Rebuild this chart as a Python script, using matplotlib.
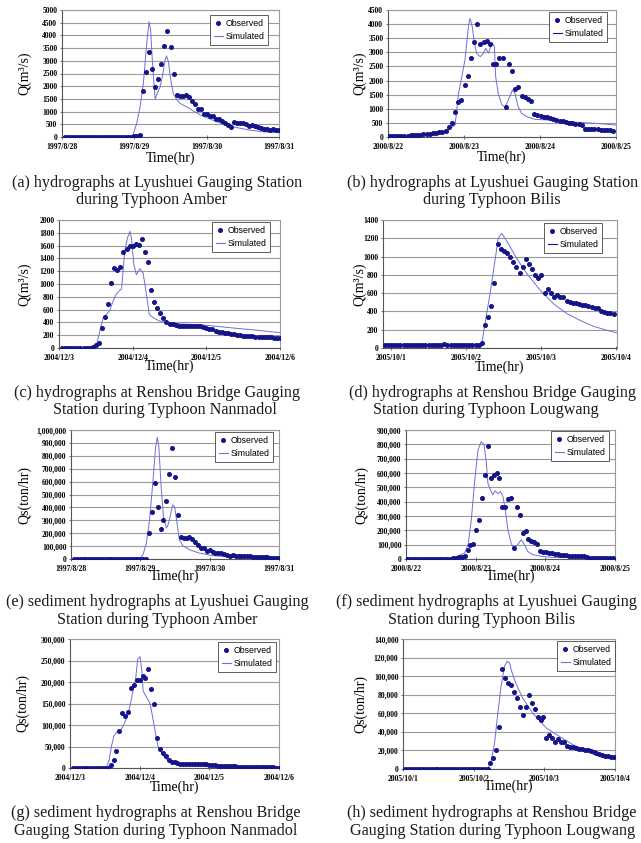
import numpy as np
import matplotlib.pyplot as plt
from matplotlib.ticker import FuncFormatter
from matplotlib.lines import Line2D

W, H = 641, 843
OBS_C = '#14148a'
SIM_C = '#6f6fd8'
SERIF = ['Liberation Serif', 'DejaVu Serif']
SANS = ['Liberation Sans', 'DejaVu Sans']

# ---- (a) Lyushuei, Amber, flow (m3/s) ----
a_dates = ['1997/8/28', '1997/8/29', '1997/8/30', '1997/8/31']
a_obs_t0 = 1
a_obs = [10, 10, 10, 10, 10, 10, 10, 10, 10, 10, 10, 10, 10, 10, 10, 10, 10, 10, 10, 10,
         10, 10, 10, 20, 40, 70, 1824, 2546, 3360, 2690, 1982, 2297, 2887, 3583, 4173, 3530,
         2467, 1654, 1600, 1600, 1640, 1560, 1430, 1286, 1090, 1090, 905, 905, 827, 827, 709,
         709, 643, 564, 472, 407, 604, 538, 551, 538, 499, 446, 459, 433, 380, 367, 302, 302,
         275, 302, 275, 290]
a_sim_t = [0, 23.2, 23.7, 24.8, 25.9, 27.0, 28.1, 28.9, 29.4, 30.1, 30.9, 31.6, 32.5, 33.3,
           34.2, 34.7, 35.3, 36.1, 36.9, 37.8, 39.1, 41.3, 45.8, 51.3, 56.8, 62.3, 67.8, 72]
a_sim = [0, 0, 144, 540, 1190, 2110, 3690, 4540, 4210, 2770, 1483, 1720, 1955, 2375,
         3030, 3190, 2966, 2244, 1720, 1520, 1325, 1190, 870, 600, 400, 270, 190, 170]

# ---- (b) Lyushuei, Bilis, flow ----
b_dates = ['2000/8/22', '2000/8/23', '2000/8/24', '2000/8/25']
b_obs_t0 = 0.2
b_obs = [20, 30, 35, 38, 40, 45, 50, 55, 60, 70, 80, 90, 100, 120, 130, 150, 160, 170, 224,
         366, 508, 896, 1251, 1311, 1843, 2172, 2810, 3356, 3993, 3296, 3356, 3413, 3306,
         2576, 2576, 2789, 2810, 1074, 2576, 2339, 1700, 1760, 1453, 1400, 1334, 1287, 804,
         780, 756, 720, 697, 673, 638, 602, 579, 555, 520, 508, 484, 460, 449, 413, 295, 295,
         283, 283, 272, 260, 260, 248, 236, 224]
b_sim_t = [0, 5, 10, 15.3, 18.4, 20.2, 21.2, 22.2, 23.3, 24.3, 25.4, 25.9, 26.6, 27.3, 28,
           29.1, 30.1, 30.9, 31.7, 32.9, 33.6, 34, 34.8, 35.9, 36.9, 38, 39.3, 40.1, 41.1,
           42.2, 43.8, 46.4, 50.6, 55, 60, 66, 72]
b_sim = [12, 40, 70, 150, 224, 350, 425, 1488, 2137, 2729, 3909, 4206, 3909, 3320, 2965,
         2846, 2965, 3143, 2965, 3343, 3201, 2137, 1548, 1158, 1052, 1311, 1666, 1548, 1074,
         840, 720, 627, 602, 560, 520, 480, 425]

# ---- (c) Renshou, Nanmadol, flow ----
c_dates = ['2004/12/3', '2004/12/4', '2004/12/5', '2004/12/6']
c_obs_t0 = 1
c_obs = [0, 0, 0, 0, 0, 0, 0, 0, 0, 5, 15, 40, 80, 316, 483, 680, 1017, 1251, 1215, 1266,
         1505, 1547, 1589, 1595, 1625, 1610, 1698, 1505, 1344, 913, 716, 623, 550, 472, 405,
         380, 370, 360, 350, 350, 348, 345, 345, 350, 350, 345, 330, 312, 300, 290, 260, 250,
         245, 240, 235, 225, 215, 205, 200, 192, 185, 182, 180, 178, 175, 172, 170, 168, 165,
         162, 160, 155]
c_sim_t = [0, 11, 12.2, 13.0, 13.6, 14.4, 15.5, 16.5, 17.6, 18.7, 20.4, 21.4, 22.3, 23.1,
           23.6, 24.4, 25.2, 26.3, 27.4, 28.5, 29.4, 30.7, 32.8, 35, 40, 45.9, 50, 56.8, 64, 72]
c_sim = [0, 0, 50, 200, 330, 472, 524, 586, 732, 846, 928, 1511, 1718, 1822, 1718, 1302,
         1146, 1240, 1173, 835, 524, 472, 420, 394, 375, 364, 345, 312, 280, 239]

# ---- (d) Renshou, Lougwang, flow ----
d_dates = ['2005/10/1', '2005/10/2', '2005/10/3', '2005/10/4']
d_obs_t0 = -1.9
d_obs = [35, 33, 33, 33, 33, 35, 33, 33, 33, 33, 33, 33, 33, 33, 33, 33, 33, 33, 33, 40,
         33, 33, 33, 33, 33, 33, 33, 33, 33, 35, 33, 55, 256, 340, 460, 713, 1137, 1082, 1056,
         1042, 990, 943, 881, 819, 881, 969, 914, 866, 797, 771, 797, 603, 640, 607, 559, 581,
         563, 563, 519, 504, 497, 490, 486, 475, 468, 457, 450, 439, 435, 406, 395, 387, 380,
         369]
d_sim_t = [-2.4, 29, 30.1, 31.7, 33.3, 34.3, 35.4, 36.5, 38.1, 40.2, 43.4, 47.7, 51.9, 56.2,
           60.4, 64.6, 69, 72.2]
d_sim = [33, 35, 267, 596, 961, 1199, 1254, 1199, 1107, 980, 815, 632, 486, 376, 303, 238,
         194, 164]

# ---- (e) Lyushuei, Amber, sediment (ton/hr) ----
e_obs_t0 = 1
e_obs = [0] * 26 + [
    201e3, 361e3, 588e3, 402e3, 235e3, 302e3, 448e3, 660e3, 858e3, 639e3, 343e3, 170e3,
    162e3, 162e3, 170e3, 155e3, 129e3, 108e3, 88e3, 88e3, 59e3, 67e3, 54e3, 49e3, 46e3,
    44e3, 39e3, 31e3, 21e3, 31e3, 26e3, 26e3, 26e3, 23e3, 21e3, 21e3, 18e3, 18e3, 15e3,
    15e3, 13e3, 13e3, 11e3, 10e3, 9e3, 8e3]
e_sim_t = [0, 23.8, 24.9, 26.1, 27.2, 28.4, 29.3, 29.9, 30.4, 31.2, 32, 33, 33.5, 34.3, 35.2,
           35.9, 36.7, 37.5, 38.7, 41, 44.4, 49, 55.9, 65, 72]
e_sim = [0, 0, 33e3, 124e3, 304e3, 613e3, 871e3, 943e3, 871e3, 562e3, 330e3, 240e3, 258e3,
         330e3, 420e3, 402e3, 278e3, 150e3, 103e3, 72e3, 46e3, 26e3, 15e3, 10e3, 8e3]

# ---- (f) Lyushuei, Bilis, sediment ----
f_obs_t0 = 0.2
f_obs = [0, 0, 0, 0, 0, 0, 0, 0, 0, 0, 0, 1e3, 1e3, 2e3, 2e3, 3e3, 4e3, 7e3, 12e3, 14e3,
         23e3, 60e3, 100e3, 107e3, 204e3, 274e3, 424e3, 587e3, 789e3, 564e3, 587e3, 598e3,
         564e3, 366e3, 366e3, 418e3, 429e3, 77e3, 364e3, 308e3, 181e3, 193e3, 139e3, 128e3,
         118e3, 107e3, 53e3, 46e3, 46e3, 42e3, 40e3, 37e3, 34e3, 30e3, 28e3, 26e3, 23e3,
         22e3, 21e3, 20e3, 20e3, 19e3, 12e3, 10e3, 9e3, 9e3, 8e3, 7e3, 6e3, 6e3, 5e3, 5e3]
f_sim_t = [0, 15, 16.8, 20.2, 21.4, 22.5, 23.7, 24.8, 25.9, 26.9, 27.7, 28.2, 29.1, 29.9,
           30.7, 31.7, 32.5, 33.4, 34.2, 35.1, 36.2, 37, 38.5, 39.7, 40.8, 41.9, 43.7, 46.5,
           50, 60, 72]
f_sim = [0, 0, 12e3, 42e3, 100e3, 274e3, 552e3, 761e3, 819e3, 796e3, 668e3, 529e3, 482e3,
         448e3, 476e3, 455e3, 471e3, 436e3, 343e3, 204e3, 111e3, 77e3, 100e3, 135e3, 100e3,
         53e3, 30e3, 19e3, 12e3, 8e3, 5e3]

# ---- (g) Renshou, Nanmadol, sediment ----
g_obs_t0 = 1
g_obs = [0] * 13 + [
    7.8e3, 18e3, 40e3, 85e3, 129e3, 121e3, 131e3, 185e3, 192e3, 205e3, 205e3, 213e3, 209e3,
    231e3, 183e3, 148e3, 70e3, 44e3, 35e3, 27e3, 19.5e3, 15e3, 13e3, 11e3, 10e3, 10e3, 10e3,
    10e3, 10e3, 10e3, 10e3, 10e3, 9.5e3, 8.6e3, 7.8e3, 7e3, 6.2e3, 5.5e3, 5.5e3, 4.7e3,
    4.7e3, 3.9e3, 3.9e3, 3.9e3, 3.1e3, 3.1e3, 3.1e3, 2.3e3, 2.3e3, 2.3e3, 2.3e3, 2e3, 1.6e3,
    1.6e3, 1.6e3, 1.6e3, 1.6e3, 0.8e3, 0.8e3]
g_sim_t = [0, 12, 12.6, 13.5, 14.3, 15.1, 16.1, 17.2, 18.3, 19.3, 20.1, 20.9, 21.8, 22.6,
           23.3, 24.1, 24.7, 25.2, 26.4, 27.5, 28.4, 29.4, 30.3, 31.2, 32.7, 34.4, 38, 45,
           55, 72]
g_sim = [0, 0, 2e3, 19.5e3, 51e3, 74e3, 84e3, 87e3, 97e3, 113e3, 127e3, 152e3, 183e3,
         206e3, 253e3, 259e3, 230e3, 179e3, 164e3, 152e3, 121e3, 82e3, 51e3, 39e3, 23e3,
         15.6e3, 10e3, 7e3, 3.9e3, 1.6e3]

# ---- (h) Renshou, Lougwang, sediment ----
h_obs_t0 = 0.7
h_obs = [0] * 29 + [
    6.5e3, 11.5e3, 20e3, 45e3, 108e3, 98e3, 93e3, 90e3, 83e3, 76e3, 67e3, 58e3, 67e3, 80e3,
    71e3, 65e3, 56e3, 53e3, 56e3, 33e3, 37e3, 33e3, 29e3, 32e3, 29e3, 29e3, 25e3, 24e3,
    24e3, 23e3, 22e3, 21.5e3, 20.5e3, 20e3, 19e3, 18.3e3, 17.2e3, 16.2e3, 15e3, 14.4e3,
    13.6e3, 12.9e3, 12.5e3]
h_sim_t = [0, 28.8, 29.9, 31.1, 32.2, 33.3, 34.5, 35.4, 36.2, 37.1, 38.5, 40.7, 44.1, 48.7,
           53.2, 57.8, 62.3, 66.9, 72]
h_sim = [0, 0, 8e3, 28e3, 60e3, 89e3, 111e3, 116e3, 114e3, 103e3, 91e3, 76e3, 60e3, 44e3,
         35e3, 26e3, 20e3, 15.4e3, 11.8e3]

q_label = 'Q(m³/s)'
qs_label = 'Qs(ton/hr)'

captions = [
    ('(a) hydrographs at Lyushuei Gauging Station', 'during Typhoon Amber'),
    ('(b) hydrographs at Lyushuei Gauging Station', 'during Typhoon Bilis'),
    ('(c) hydrographs at Renshou Bridge Gauging', 'Station during Typhoon Nanmadol'),
    ('(d) hydrographs at Renshou Bridge Gauging', 'Station during Typhoon Lougwang'),
    ('(e) sediment hydrographs at Lyushuei Gauging', 'Station during Typhoon Amber'),
    ('(f) sediment hydrographs at Lyushuei Gauging', 'Station during Typhoon Bilis'),
    ('(g) sediment hydrographs at Renshou Bridge', 'Gauging Station during Typhoon Nanmadol'),
    ('(h) sediment hydrographs at Renshou Bridge', 'Gauging Station during Typhoon Lougwang'),
]

panels = [
    dict(obs=a_obs, t0=a_obs_t0, st=a_sim_t, sv=a_sim, dates=a_dates, ymax=5000, ystep=500, yl=q_label),
    dict(obs=b_obs, t0=b_obs_t0, st=b_sim_t, sv=b_sim, dates=b_dates, ymax=4500, ystep=500, yl=q_label),
    dict(obs=c_obs, t0=c_obs_t0, st=c_sim_t, sv=c_sim, dates=c_dates, ymax=2000, ystep=200, yl=q_label),
    dict(obs=d_obs, t0=d_obs_t0, st=d_sim_t, sv=d_sim, dates=d_dates, ymax=1400, ystep=200, yl=q_label),
    dict(obs=e_obs, t0=e_obs_t0, st=e_sim_t, sv=e_sim, dates=a_dates, ymax=1e6, ystep=1e5, yl=qs_label),
    dict(obs=f_obs, t0=f_obs_t0, st=f_sim_t, sv=f_sim, dates=b_dates, ymax=9e5, ystep=1e5, yl=qs_label),
    dict(obs=g_obs, t0=g_obs_t0, st=g_sim_t, sv=g_sim, dates=c_dates, ymax=3e5, ystep=5e4, yl=qs_label),
    dict(obs=h_obs, t0=h_obs_t0, st=h_sim_t, sv=h_sim, dates=d_dates, ymax=1.4e5, ystep=2e4, yl=qs_label),
]

# layout in pixels: axes box (left, top, right, bottom), xlim, ylabel distance,
# xlabel distance, legend top-right corner, caption line centres and y
layout = [
    dict(box=(62, 10, 279, 137), xlim=(0, 72), yld=37, xld=21, leg=(268, 15),
         cap=((157, 183), (152, 200))),
    dict(box=(388, 10, 616, 137), xlim=(0, 72), yld=28, xld=20, leg=(607, 12),
         cap=((493, 183), (492, 200))),
    dict(box=(59, 220, 280, 348), xlim=(0, 72), yld=34, xld=18, leg=(270, 222),
         cap=((157, 393), (165, 410))),
    dict(box=(383, 220, 617, 348), xlim=(-2.45, 72.2), yld=23, xld=19, leg=(602, 223),
         cap=((492, 393), (486, 410))),
    dict(box=(71, 430, 279, 559), xlim=(0, 72), yld=46, xld=17, leg=(273, 432),
         cap=((157, 602), (157, 620))),
    dict(box=(406, 430, 615, 559), xlim=(0, 72), yld=44, xld=17, leg=(609, 431),
         cap=((486, 602), (482, 620))),
    dict(box=(70, 639, 279, 768), xlim=(0, 72), yld=47, xld=19, leg=(276, 642),
         cap=((156, 813), (156, 831))),
    dict(box=(403, 639, 615, 769), xlim=(0, 72), yld=42, xld=17, leg=(615, 641),
         cap=((492, 813), (493, 831))),
]

fig = plt.figure(figsize=(W / 100, H / 100), dpi=100)

for k, (p, lay) in enumerate(zip(panels, layout)):
    l, t, r, b = lay['box']
    ax = fig.add_axes([l / W, 1 - b / H, (r - l) / W, (b - t) / H])
    obs_t = p['t0'] + np.arange(len(p['obs']))
    ax.plot(p['st'], p['sv'], color=SIM_C, lw=0.7, zorder=2)
    ax.plot(obs_t, p['obs'], ls='none', marker='o', ms=2.6, color=OBS_C, zorder=3)
    ax.set_xlim(*lay['xlim'])
    ax.set_ylim(0, p['ymax'])
    ax.set_yticks(np.arange(0, p['ymax'] + 1, p['ystep']))
    ax.set_xticks([0, 24, 48, 72])
    ax.set_xticklabels(p['dates'])
    if p['ymax'] >= 1e5:
        ax.yaxis.set_major_formatter(FuncFormatter(lambda v, pos: f'{int(round(v)):,}'))
    ax.grid(axis='y', color='#9a9a9a', lw=0.8)
    ax.set_axisbelow(True)
    for s in ('top', 'right'):
        ax.spines[s].set_color('#9a9a9a')
        ax.spines[s].set_linewidth(0.8)
    for s in ('left', 'bottom'):
        ax.spines[s].set_color('#555555')
        ax.spines[s].set_linewidth(0.8)
    ax.tick_params(axis='x', direction='inout', length=3, width=0.6, pad=3, color='#555555')
    ax.tick_params(axis='y', direction='out', length=1.5, width=0.6, pad=1.8, color='#555555')
    for lab in ax.get_xticklabels() + ax.get_yticklabels():
        lab.set_family(SERIF)
        lab.set_fontweight('bold')
        lab.set_fontsize(5.5)
    wpx, hpx = r - l, b - t
    ax.set_ylabel(p['yl'], family=SERIF, fontsize=10)
    ax.yaxis.set_label_coords(-lay['yld'] / wpx, 0.5)
    ax.set_xlabel('Time(hr)', family=SERIF, fontsize=10)
    ax.xaxis.set_label_coords(0.5, -lay['xld'] / hpx)
    ax.xaxis.label.set_va('center')
    ax.yaxis.label.set_va('center')

    leg_line = OBS_C if k in (1, 3) else SIM_C
    handles = [Line2D([], [], ls='none', marker='o', ms=2.6, color=OBS_C),
               Line2D([], [], color=leg_line, lw=0.8)]
    lx, ly = lay['leg']
    leg = ax.legend(handles, ['Observed', 'Simulated'], loc='upper right',
                    bbox_to_anchor=(lx / W, 1 - ly / H), bbox_transform=fig.transFigure,
                    prop=dict(family=SANS, size=6.3), frameon=True, fancybox=False,
                    edgecolor='#444444', framealpha=1, borderpad=0.45, labelspacing=0.5,
                    handlelength=1.0, handletextpad=0.3, borderaxespad=0)
    leg.get_frame().set_linewidth(0.6)

    for line, (cx, cy) in zip(captions[k], lay['cap']):
        fig.text(cx / W, 1 - cy / H, line, ha='center', va='center', family=SERIF,
                 fontsize=11.6, color='#1a1a1a')

fig.savefig('out.png', dpi=100)
